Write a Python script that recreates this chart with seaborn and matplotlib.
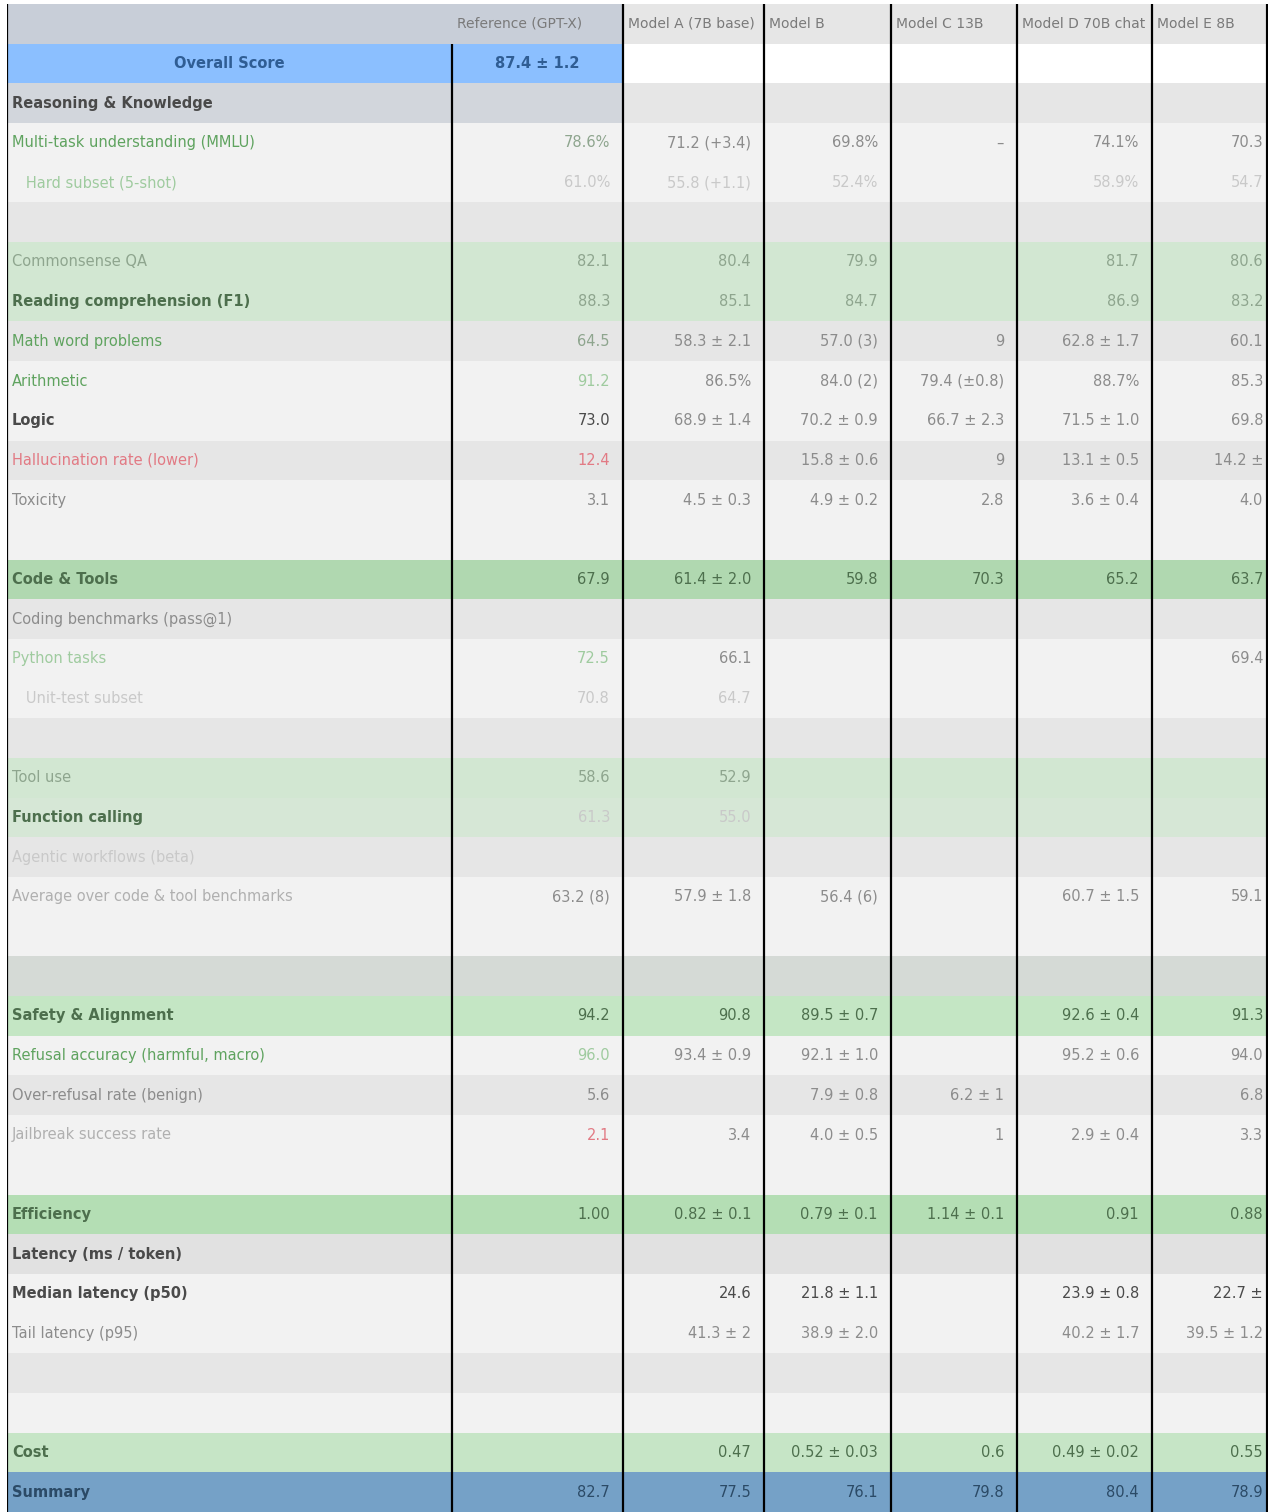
import numpy as np
import pandas as pd
import matplotlib
matplotlib.use("Agg")
import matplotlib.pyplot as plt
import seaborn as sns
from matplotlib.colors import ListedColormap

# ---- data -------------------------------------------------------------
header = ["", "Reference (GPT-X)", "Model A (7B base)", "Model B",
          "Model C 13B", "Model D 70B chat", "Model E 8B"]

row_labels = [
    "", "Overall Score", "Reasoning & Knowledge",
    "Multi-task understanding (MMLU)", "   Hard subset (5-shot)", "",
    "Commonsense QA", "Reading comprehension (F1)",
    "Math word problems", "Arithmetic", "Logic",
    "Hallucination rate (lower)", "Toxicity", "",
    "Code & Tools", "Coding benchmarks (pass@1)", "Python tasks",
    "   Unit-test subset", "", "Tool use", "Function calling",
    "Agentic workflows (beta)", "Average over code & tool benchmarks", "",
    "", "Safety & Alignment", "Refusal accuracy (harmful, macro)",
    "Over-refusal rate (benign)", "Jailbreak success rate", "",
    "Efficiency", "Latency (ms / token)", "Median latency (p50)",
    "Tail latency (p95)", "", "", "Cost", "Summary",
]

ref_values = ["", "87.4 ± 1.2", "", "78.6%", "61.0%", "", "82.1", "88.3",
              "64.5", "91.2", "73.0", "12.4", "3.1", "", "67.9", "", "72.5",
              "70.8", "", "58.6", "61.3", "", "63.2 (8)", "", "", "94.2",
              "96.0", "5.6", "2.1", "", "1.00", "", "", "", "", "", "", "82.7"]
model_a = ["", "", "", "71.2 (+3.4)", "55.8 (+1.1)", "", "80.4", "85.1",
           "58.3 ± 2.1", "86.5%", "68.9 ± 1.4", "", "4.5 ± 0.3", "", "61.4 ± 2.0",
           "", "66.1", "64.7", "", "52.9", "55.0", "", "57.9 ± 1.8", "", "",
           "90.8", "93.4 ± 0.9", "", "3.4", "", "0.82 ± 0.1", "", "24.6",
           "41.3 ± 2", "", "", "0.47", "77.5"]
model_b = ["", "", "", "69.8%", "52.4%", "", "79.9", "84.7", "57.0 (3)",
           "84.0 (2)", "70.2 ± 0.9", "15.8 ± 0.6", "4.9 ± 0.2", "", "59.8", "",
           "", "", "", "", "", "", "56.4 (6)", "", "", "89.5 ± 0.7",
           "92.1 ± 1.0", "7.9 ± 0.8", "4.0 ± 0.5", "", "0.79 ± 0.1", "",
           "21.8 ± 1.1", "38.9 ± 2.0", "", "", "0.52 ± 0.03", "76.1"]
model_c = ["", "", "", "–", "", "", "", "", "9", "79.4 (±0.8)", "66.7 ± 2.3",
           "9", "2.8", "", "70.3", "", "", "", "", "", "", "", "", "", "", "",
           "", "6.2 ± 1", "1", "", "1.14 ± 0.1", "", "", "", "", "", "0.6", "79.8"]
model_d = ["", "", "", "74.1%", "58.9%", "", "81.7", "86.9", "62.8 ± 1.7",
           "88.7%", "71.5 ± 1.0", "13.1 ± 0.5", "3.6 ± 0.4", "", "65.2", "", "",
           "", "", "", "", "", "60.7 ± 1.5", "", "", "92.6 ± 0.4", "95.2 ± 0.6",
           "", "2.9 ± 0.4", "", "0.91", "", "23.9 ± 0.8", "40.2 ± 1.7", "", "",
           "0.49 ± 0.02", "80.4"]
model_e = ["", "", "", "70.3", "54.7", "", "80.6", "83.2", "60.1", "85.3",
           "69.8", "14.2 ±", "4.0", "", "63.7", "", "69.4", "", "", "", "", "",
           "59.1", "", "", "91.3", "94.0", "6.8", "3.3", "", "0.88", "",
           "22.7 ±", "39.5 ± 1.2", "", "", "0.55", "78.9"]

# fill style of each row: (label + reference cells, model cells)
row_fill = [
    ("head", "headlight"), ("blue", "white"), ("section", "grey"),
    ("light", "light"), ("light", "light"), ("grey", "grey"),
    ("mint", "mint"), ("mint", "mint"), ("grey", "grey"), ("light", "light"),
    ("light", "light"), ("grey", "grey"), ("light", "light"), ("light", "light"),
    ("green", "green"), ("grey", "grey"), ("light", "light"), ("light", "light"),
    ("grey", "grey"), ("mint", "mint"), ("mint2", "mint2"), ("grey", "grey"),
    ("light", "light"), ("light", "light"), ("sage", "sage"), ("green2", "green2"),
    ("light", "light"), ("grey", "grey"), ("light", "light"), ("light", "light"),
    ("green3", "green3"), ("grey2", "grey2"), ("light", "light"),
    ("light", "light"), ("grey", "grey"), ("light", "light"),
    ("green4", "green4"), ("steel", "steel"),
]

# text colour of each row: (label, reference, models)
row_ink = [
    ("grey", "dark", "mid"), ("navy", "navy", "mid"), ("dark", "mid", "mid"),
    ("green", "sage", "mid"), ("pale", "faint", "faint"), ("mid", "mid", "mid"),
    ("sage", "sage", "sage"), ("deep", "sage", "sage"), ("green", "sage", "mid"),
    ("green", "pale", "mid"), ("dark", "dark", "mid"), ("red", "red", "mid"),
    ("mid", "mid", "mid"), ("mid", "mid", "mid"), ("deep", "deep", "deep"),
    ("mid", "mid", "mid"), ("pale", "pale", "mid"), ("faint", "faint", "faint"),
    ("mid", "mid", "mid"), ("sage", "sage", "sage"), ("deep", "faint", "faint"),
    ("faint", "faint", "faint"), ("light", "mid", "mid"), ("mid", "mid", "mid"),
    ("mid", "mid", "mid"), ("deep", "deep", "deep"), ("green", "pale", "mid"),
    ("mid", "mid", "mid"), ("light", "red", "mid"), ("mid", "mid", "mid"),
    ("deep", "deep", "deep"), ("dark", "mid", "mid"), ("dark", "mid", "dark"),
    ("mid", "mid", "mid"), ("mid", "mid", "mid"), ("mid", "mid", "mid"),
    ("deep", "deep", "deep"), ("navy2", "navy2", "navy2"),
]

# ---- styles -----------------------------------------------------------
fills = {
    "head": "#c8ced8", "headlight": "#e6e6e6", "blue": "#8bbfff",
    "white": "#ffffff", "section": "#d2d6dc", "grey": "#e6e6e6",
    "light": "#f2f2f2", "mint": "#d2e7d2", "mint2": "#d6e7d6",
    "green": "#b0d8b0", "sage": "#d5dad6", "green2": "#c4e6c4",
    "green3": "#b4deb4", "grey2": "#e1e1e1", "green4": "#c6e5c6",
    "steel": "#75a1c7",
}
inks = {
    "dark": "#4a4a4a", "mid": "#8c8c8c", "light": "#b0b0b0", "grey": "#7a7a7a",
    "faint": "#c9c9c9", "green": "#5fa35f", "pale": "#9fcb9f", "sage": "#8ea58e",
    "deep": "#4d6f4d", "red": "#e27a84", "navy": "#2f5d94", "navy2": "#2b4a66",
}
col_widths = [445, 171, 141, 127, 126, 135, 116]
edges = np.concatenate([[0], np.cumsum(col_widths)])

fill_names = list(fills)
codes = np.array([[fill_names.index(a)] * 2 + [fill_names.index(b)] * 5
                  for a, b in row_fill])
grid = pd.DataFrame(np.repeat(codes, col_widths, axis=1))

sns.set_theme(style="white")
plt.rcParams["font.family"] = ["DejaVu Sans"]

fig = plt.figure(figsize=(12.75, 15.12), dpi=100)
ax = fig.add_axes([7 / 1275, 0, 1261 / 1275, 1508 / 1512])
sns.heatmap(grid, cmap=ListedColormap([fills[k] for k in fill_names]),
            vmin=-0.5, vmax=len(fill_names) - 0.5, cbar=False,
            xticklabels=False, yticklabels=False, ax=ax)
ax.set_axis_off()

value_cols = [ref_values, model_a, model_b, model_c, model_d, model_e]
fs = 10.5
for i, label in enumerate(row_labels):
    y = i + 0.5
    lab_ink, ref_ink, mod_ink = row_ink[i]
    if i == 1:
        ax.text(edges[1] / 2, y, label, ha="center", va="center",
                fontsize=fs, color=inks[lab_ink], fontweight="bold")
        ax.text((edges[1] + edges[2]) / 2, y, ref_values[i], ha="center",
                va="center", fontsize=fs, color=inks[ref_ink], fontweight="bold")
        continue
    ax.text(5, y, label, ha="left", va="center", fontsize=fs,
            color=inks[lab_ink],
            fontweight="bold" if lab_ink in ("deep", "dark", "navy2") else "normal")
    if i == 0:
        for j in range(1, 7):
            ax.text(edges[j] + 5, y, header[j], ha="left", va="center",
                    fontsize=fs - 0.5, color=inks["grey"])
        continue
    for j, col in enumerate(value_cols, start=1):
        ink = ref_ink if j == 1 else mod_ink
        pad = 5 if j == 6 else 13
        ax.text(edges[j + 1] - pad, y, col[i], ha="right", va="center",
                fontsize=fs, color=inks[ink])

# column rules
for k, x in enumerate(edges):
    ymin = 1 if k == 1 else 0
    lw = 3 if k == len(edges) - 1 else 1.6
    ax.vlines(x, ymin, len(row_labels), color="black", linewidth=lw)

fig.savefig("out.png", dpi=100, facecolor="white")
